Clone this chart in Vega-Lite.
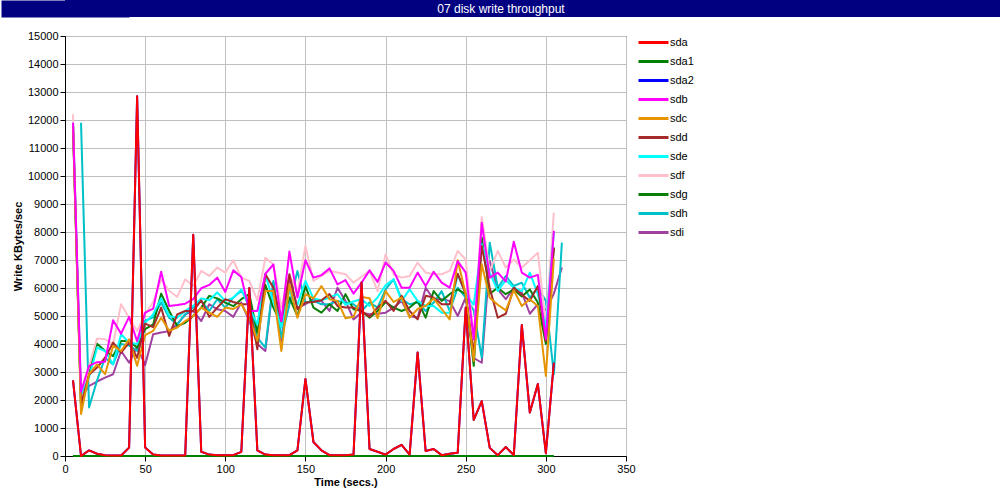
{
"$schema": "https://vega.github.io/schema/vega-lite/v6.json",
"background": "white",
"padding": 0,
"spacing": 12,
"columns": 1,
"resolve": {"legend": {"color": "independent"}},
"config": {"font": "Liberation Sans", "view": {"stroke": "black"}},
"datasets": {
"head": [{"label": "07 disk write throughput"}],
"series": [
{"s":"sdi","t":10,"v":2100},{"s":"sdi","t":15,"v":2500},{"s":"sdi","t":20,"v":2660},{"s":"sdi","t":25,"v":2800},{"s":"sdi","t":30,"v":2920},{"s":"sdi","t":35,"v":3750},{"s":"sdi","t":40,"v":3330},{"s":"sdi","t":45,"v":3900},{"s":"sdi","t":50,"v":3250},{"s":"sdi","t":55,"v":4350},{"s":"sdi","t":60,"v":4410},{"s":"sdi","t":65,"v":4460},{"s":"sdi","t":70,"v":4700},{"s":"sdi","t":75,"v":5060},{"s":"sdi","t":80,"v":5180},{"s":"sdi","t":85,"v":4820},{"s":"sdi","t":90,"v":5420},{"s":"sdi","t":95,"v":5240},{"s":"sdi","t":100,"v":5180},{"s":"sdi","t":105,"v":4970},{"s":"sdi","t":110,"v":5480},{"s":"sdi","t":115,"v":4820},{"s":"sdi","t":120,"v":4000},{"s":"sdi","t":125,"v":3750},{"s":"sdi","t":130,"v":6200},{"s":"sdi","t":135,"v":4110},{"s":"sdi","t":140,"v":6370},{"s":"sdi","t":145,"v":5300},{"s":"sdi","t":150,"v":5420},{"s":"sdi","t":155,"v":5600},{"s":"sdi","t":160,"v":5540},{"s":"sdi","t":165,"v":5180},{"s":"sdi","t":170,"v":6010},{"s":"sdi","t":175,"v":5540},{"s":"sdi","t":180,"v":4880},{"s":"sdi","t":185,"v":5120},{"s":"sdi","t":190,"v":5060},{"s":"sdi","t":195,"v":5080},{"s":"sdi","t":200,"v":5120},{"s":"sdi","t":205,"v":5300},{"s":"sdi","t":210,"v":5540},{"s":"sdi","t":215,"v":5000},{"s":"sdi","t":220,"v":4940},{"s":"sdi","t":225,"v":6010},{"s":"sdi","t":230,"v":5600},{"s":"sdi","t":235,"v":5600},{"s":"sdi","t":240,"v":5540},{"s":"sdi","t":245,"v":5000},{"s":"sdi","t":250,"v":5660},{"s":"sdi","t":255,"v":3500},{"s":"sdi","t":260,"v":3330},{"s":"sdi","t":265,"v":6960},{"s":"sdi","t":270,"v":5950},{"s":"sdi","t":275,"v":5600},{"s":"sdi","t":280,"v":6010},{"s":"sdi","t":285,"v":5840},{"s":"sdi","t":290,"v":5080},{"s":"sdi","t":295,"v":5420},{"s":"sdi","t":300,"v":5200},{"s":"sdi","t":305,"v":5800},{"s":"sdi","t":310,"v":6730},
{"s":"sdh","t":10,"v":11900},{"s":"sdh","t":15,"v":1730},{"s":"sdh","t":20,"v":2700},{"s":"sdh","t":25,"v":3510},{"s":"sdh","t":30,"v":3270},{"s":"sdh","t":35,"v":4000},{"s":"sdh","t":40,"v":3950},{"s":"sdh","t":45,"v":3750},{"s":"sdh","t":50,"v":4830},{"s":"sdh","t":55,"v":4950},{"s":"sdh","t":60,"v":5480},{"s":"sdh","t":65,"v":4940},{"s":"sdh","t":70,"v":4700},{"s":"sdh","t":75,"v":5060},{"s":"sdh","t":80,"v":5300},{"s":"sdh","t":85,"v":5540},{"s":"sdh","t":90,"v":5180},{"s":"sdh","t":95,"v":5600},{"s":"sdh","t":100,"v":5300},{"s":"sdh","t":105,"v":5660},{"s":"sdh","t":110,"v":5890},{"s":"sdh","t":115,"v":5540},{"s":"sdh","t":120,"v":4230},{"s":"sdh","t":125,"v":3870},{"s":"sdh","t":130,"v":6250},{"s":"sdh","t":135,"v":4230},{"s":"sdh","t":140,"v":5400},{"s":"sdh","t":145,"v":6610},{"s":"sdh","t":150,"v":5480},{"s":"sdh","t":155,"v":5540},{"s":"sdh","t":160,"v":5420},{"s":"sdh","t":165,"v":5420},{"s":"sdh","t":170,"v":5540},{"s":"sdh","t":175,"v":5480},{"s":"sdh","t":180,"v":5420},{"s":"sdh","t":185,"v":5180},{"s":"sdh","t":190,"v":5480},{"s":"sdh","t":195,"v":5300},{"s":"sdh","t":200,"v":5950},{"s":"sdh","t":205,"v":6310},{"s":"sdh","t":210,"v":5600},{"s":"sdh","t":215,"v":5420},{"s":"sdh","t":220,"v":5480},{"s":"sdh","t":225,"v":5180},{"s":"sdh","t":230,"v":5480},{"s":"sdh","t":235,"v":5890},{"s":"sdh","t":240,"v":5180},{"s":"sdh","t":245,"v":6010},{"s":"sdh","t":250,"v":5660},{"s":"sdh","t":255,"v":5200},{"s":"sdh","t":260,"v":3510},{"s":"sdh","t":265,"v":7620},{"s":"sdh","t":270,"v":6010},{"s":"sdh","t":275,"v":6430},{"s":"sdh","t":280,"v":6070},{"s":"sdh","t":285,"v":6190},{"s":"sdh","t":290,"v":5650},{"s":"sdh","t":295,"v":6010},{"s":"sdh","t":300,"v":5540},{"s":"sdh","t":305,"v":2920},{"s":"sdh","t":310,"v":7620},
{"s":"sdg","t":5,"v":11800},{"s":"sdg","t":10,"v":1700},{"s":"sdg","t":15,"v":3000},{"s":"sdg","t":20,"v":4010},{"s":"sdg","t":25,"v":3750},{"s":"sdg","t":30,"v":3570},{"s":"sdg","t":35,"v":4110},{"s":"sdg","t":40,"v":4110},{"s":"sdg","t":45,"v":3870},{"s":"sdg","t":50,"v":4530},{"s":"sdg","t":55,"v":4700},{"s":"sdg","t":60,"v":5800},{"s":"sdg","t":65,"v":5180},{"s":"sdg","t":70,"v":4640},{"s":"sdg","t":75,"v":4760},{"s":"sdg","t":80,"v":5000},{"s":"sdg","t":85,"v":5300},{"s":"sdg","t":90,"v":5720},{"s":"sdg","t":95,"v":5630},{"s":"sdg","t":100,"v":5480},{"s":"sdg","t":105,"v":5350},{"s":"sdg","t":110,"v":5600},{"s":"sdg","t":115,"v":5780},{"s":"sdg","t":120,"v":4400},{"s":"sdg","t":125,"v":6110},{"s":"sdg","t":130,"v":5300},{"s":"sdg","t":135,"v":4700},{"s":"sdg","t":140,"v":5660},{"s":"sdg","t":145,"v":5000},{"s":"sdg","t":150,"v":6070},{"s":"sdg","t":155,"v":5300},{"s":"sdg","t":160,"v":5120},{"s":"sdg","t":165,"v":5420},{"s":"sdg","t":170,"v":5180},{"s":"sdg","t":175,"v":5780},{"s":"sdg","t":180,"v":5240},{"s":"sdg","t":185,"v":5180},{"s":"sdg","t":190,"v":4940},{"s":"sdg","t":195,"v":5180},{"s":"sdg","t":200,"v":5500},{"s":"sdg","t":205,"v":5300},{"s":"sdg","t":210,"v":5180},{"s":"sdg","t":215,"v":5300},{"s":"sdg","t":220,"v":5540},{"s":"sdg","t":225,"v":4940},{"s":"sdg","t":230,"v":5890},{"s":"sdg","t":235,"v":5540},{"s":"sdg","t":240,"v":5780},{"s":"sdg","t":245,"v":5950},{"s":"sdg","t":250,"v":5780},{"s":"sdg","t":255,"v":3220},{"s":"sdg","t":260,"v":7800},{"s":"sdg","t":265,"v":5800},{"s":"sdg","t":270,"v":6010},{"s":"sdg","t":275,"v":5780},{"s":"sdg","t":280,"v":5950},{"s":"sdg","t":285,"v":5700},{"s":"sdg","t":290,"v":5950},{"s":"sdg","t":295,"v":5480},{"s":"sdg","t":300,"v":4000},{"s":"sdg","t":305,"v":7440},
{"s":"sdf","t":5,"v":12200},{"s":"sdf","t":10,"v":2000},{"s":"sdf","t":15,"v":3200},{"s":"sdf","t":20,"v":4200},{"s":"sdf","t":25,"v":4170},{"s":"sdf","t":30,"v":4000},{"s":"sdf","t":35,"v":5420},{"s":"sdf","t":40,"v":4940},{"s":"sdf","t":45,"v":4470},{"s":"sdf","t":50,"v":5060},{"s":"sdf","t":55,"v":5500},{"s":"sdf","t":60,"v":6310},{"s":"sdf","t":65,"v":5900},{"s":"sdf","t":70,"v":5680},{"s":"sdf","t":75,"v":6310},{"s":"sdf","t":80,"v":6070},{"s":"sdf","t":85,"v":6610},{"s":"sdf","t":90,"v":6430},{"s":"sdf","t":95,"v":6730},{"s":"sdf","t":100,"v":6550},{"s":"sdf","t":105,"v":6990},{"s":"sdf","t":110,"v":6370},{"s":"sdf","t":115,"v":6250},{"s":"sdf","t":120,"v":5560},{"s":"sdf","t":125,"v":7080},{"s":"sdf","t":130,"v":6850},{"s":"sdf","t":135,"v":5300},{"s":"sdf","t":140,"v":6490},{"s":"sdf","t":145,"v":5800},{"s":"sdf","t":150,"v":7500},{"s":"sdf","t":155,"v":6250},{"s":"sdf","t":160,"v":6430},{"s":"sdf","t":165,"v":6610},{"s":"sdf","t":170,"v":6550},{"s":"sdf","t":175,"v":6490},{"s":"sdf","t":180,"v":6190},{"s":"sdf","t":185,"v":6400},{"s":"sdf","t":190,"v":6610},{"s":"sdf","t":195,"v":5890},{"s":"sdf","t":200,"v":7200},{"s":"sdf","t":205,"v":6490},{"s":"sdf","t":210,"v":6370},{"s":"sdf","t":215,"v":6430},{"s":"sdf","t":220,"v":6910},{"s":"sdf","t":225,"v":6550},{"s":"sdf","t":230,"v":6490},{"s":"sdf","t":235,"v":6490},{"s":"sdf","t":240,"v":6610},{"s":"sdf","t":245,"v":7320},{"s":"sdf","t":250,"v":7020},{"s":"sdf","t":255,"v":4200},{"s":"sdf","t":260,"v":8540},{"s":"sdf","t":265,"v":6610},{"s":"sdf","t":270,"v":7320},{"s":"sdf","t":275,"v":6730},{"s":"sdf","t":280,"v":7020},{"s":"sdf","t":285,"v":6730},{"s":"sdf","t":290,"v":6990},{"s":"sdf","t":295,"v":7260},{"s":"sdf","t":300,"v":4700},{"s":"sdf","t":305,"v":8690},
{"s":"sde","t":5,"v":11900},{"s":"sde","t":10,"v":2200},{"s":"sde","t":15,"v":2800},{"s":"sde","t":20,"v":3870},{"s":"sde","t":25,"v":3750},{"s":"sde","t":30,"v":3280},{"s":"sde","t":35,"v":4350},{"s":"sde","t":40,"v":4050},{"s":"sde","t":45,"v":4000},{"s":"sde","t":50,"v":4760},{"s":"sde","t":55,"v":5060},{"s":"sde","t":60,"v":5630},{"s":"sde","t":65,"v":5000},{"s":"sde","t":70,"v":4940},{"s":"sde","t":75,"v":5180},{"s":"sde","t":80,"v":5360},{"s":"sde","t":85,"v":5630},{"s":"sde","t":90,"v":5560},{"s":"sde","t":95,"v":5840},{"s":"sde","t":100,"v":5540},{"s":"sde","t":105,"v":5650},{"s":"sde","t":110,"v":5950},{"s":"sde","t":115,"v":5300},{"s":"sde","t":120,"v":4700},{"s":"sde","t":125,"v":6490},{"s":"sde","t":130,"v":5500},{"s":"sde","t":135,"v":4590},{"s":"sde","t":140,"v":5890},{"s":"sde","t":145,"v":5400},{"s":"sde","t":150,"v":6250},{"s":"sde","t":155,"v":5630},{"s":"sde","t":160,"v":5560},{"s":"sde","t":165,"v":5660},{"s":"sde","t":170,"v":5780},{"s":"sde","t":175,"v":5400},{"s":"sde","t":180,"v":5520},{"s":"sde","t":185,"v":5600},{"s":"sde","t":190,"v":5360},{"s":"sde","t":195,"v":5660},{"s":"sde","t":200,"v":6100},{"s":"sde","t":205,"v":6310},{"s":"sde","t":210,"v":5540},{"s":"sde","t":215,"v":5950},{"s":"sde","t":220,"v":5540},{"s":"sde","t":225,"v":5360},{"s":"sde","t":230,"v":5360},{"s":"sde","t":235,"v":5120},{"s":"sde","t":240,"v":5120},{"s":"sde","t":245,"v":6490},{"s":"sde","t":250,"v":5780},{"s":"sde","t":255,"v":5400},{"s":"sde","t":260,"v":7560},{"s":"sde","t":265,"v":6550},{"s":"sde","t":270,"v":5890},{"s":"sde","t":275,"v":6280},{"s":"sde","t":280,"v":6010},{"s":"sde","t":285,"v":5890},{"s":"sde","t":290,"v":6550},{"s":"sde","t":295,"v":5780},{"s":"sde","t":300,"v":4600},{"s":"sde","t":305,"v":7980},
{"s":"sdd","t":5,"v":11800},{"s":"sdd","t":10,"v":1850},{"s":"sdd","t":15,"v":2900},{"s":"sdd","t":20,"v":3160},{"s":"sdd","t":25,"v":3510},{"s":"sdd","t":30,"v":4050},{"s":"sdd","t":35,"v":3690},{"s":"sdd","t":40,"v":4050},{"s":"sdd","t":45,"v":3510},{"s":"sdd","t":50,"v":4730},{"s":"sdd","t":55,"v":4600},{"s":"sdd","t":60,"v":5300},{"s":"sdd","t":65,"v":4290},{"s":"sdd","t":70,"v":5060},{"s":"sdd","t":75,"v":5180},{"s":"sdd","t":80,"v":5180},{"s":"sdd","t":85,"v":5560},{"s":"sdd","t":90,"v":4970},{"s":"sdd","t":95,"v":5300},{"s":"sdd","t":100,"v":5600},{"s":"sdd","t":105,"v":5500},{"s":"sdd","t":110,"v":5420},{"s":"sdd","t":115,"v":5420},{"s":"sdd","t":120,"v":3810},{"s":"sdd","t":125,"v":6490},{"s":"sdd","t":130,"v":6010},{"s":"sdd","t":135,"v":4820},{"s":"sdd","t":140,"v":6490},{"s":"sdd","t":145,"v":5240},{"s":"sdd","t":150,"v":5480},{"s":"sdd","t":155,"v":5500},{"s":"sdd","t":160,"v":5560},{"s":"sdd","t":165,"v":5780},{"s":"sdd","t":170,"v":5360},{"s":"sdd","t":175,"v":5300},{"s":"sdd","t":180,"v":5300},{"s":"sdd","t":185,"v":5180},{"s":"sdd","t":190,"v":4970},{"s":"sdd","t":195,"v":5300},{"s":"sdd","t":200,"v":5540},{"s":"sdd","t":205,"v":5180},{"s":"sdd","t":210,"v":5720},{"s":"sdd","t":215,"v":5180},{"s":"sdd","t":220,"v":4880},{"s":"sdd","t":225,"v":5720},{"s":"sdd","t":230,"v":5660},{"s":"sdd","t":235,"v":5420},{"s":"sdd","t":240,"v":5420},{"s":"sdd","t":245,"v":6510},{"s":"sdd","t":250,"v":5780},{"s":"sdd","t":255,"v":3630},{"s":"sdd","t":260,"v":7500},{"s":"sdd","t":265,"v":6000},{"s":"sdd","t":270,"v":4940},{"s":"sdd","t":275,"v":5080},{"s":"sdd","t":280,"v":6010},{"s":"sdd","t":285,"v":5760},{"s":"sdd","t":290,"v":5540},{"s":"sdd","t":295,"v":6070},{"s":"sdd","t":300,"v":4110},{"s":"sdd","t":305,"v":7440},
{"s":"sdc","t":5,"v":11800},{"s":"sdc","t":10,"v":1500},{"s":"sdc","t":15,"v":2920},{"s":"sdc","t":20,"v":3270},{"s":"sdc","t":25,"v":2920},{"s":"sdc","t":30,"v":3930},{"s":"sdc","t":35,"v":3750},{"s":"sdc","t":40,"v":4170},{"s":"sdc","t":45,"v":3220},{"s":"sdc","t":50,"v":4320},{"s":"sdc","t":55,"v":4470},{"s":"sdc","t":60,"v":4940},{"s":"sdc","t":65,"v":4470},{"s":"sdc","t":70,"v":4590},{"s":"sdc","t":75,"v":4820},{"s":"sdc","t":80,"v":5000},{"s":"sdc","t":85,"v":5300},{"s":"sdc","t":90,"v":5120},{"s":"sdc","t":95,"v":4970},{"s":"sdc","t":100,"v":5300},{"s":"sdc","t":105,"v":5250},{"s":"sdc","t":110,"v":5420},{"s":"sdc","t":115,"v":4940},{"s":"sdc","t":120,"v":4110},{"s":"sdc","t":125,"v":5890},{"s":"sdc","t":130,"v":5890},{"s":"sdc","t":135,"v":3750},{"s":"sdc","t":140,"v":6130},{"s":"sdc","t":145,"v":4940},{"s":"sdc","t":150,"v":5780},{"s":"sdc","t":155,"v":5630},{"s":"sdc","t":160,"v":6070},{"s":"sdc","t":165,"v":5600},{"s":"sdc","t":170,"v":5540},{"s":"sdc","t":175,"v":4920},{"s":"sdc","t":180,"v":4970},{"s":"sdc","t":185,"v":5680},{"s":"sdc","t":190,"v":5630},{"s":"sdc","t":195,"v":4920},{"s":"sdc","t":200,"v":5890},{"s":"sdc","t":205,"v":5500},{"s":"sdc","t":210,"v":5660},{"s":"sdc","t":215,"v":4940},{"s":"sdc","t":220,"v":5250},{"s":"sdc","t":225,"v":5360},{"s":"sdc","t":230,"v":5630},{"s":"sdc","t":235,"v":5250},{"s":"sdc","t":240,"v":4880},{"s":"sdc","t":245,"v":6990},{"s":"sdc","t":250,"v":5780},{"s":"sdc","t":255,"v":3400},{"s":"sdc","t":260,"v":6850},{"s":"sdc","t":265,"v":5650},{"s":"sdc","t":270,"v":5400},{"s":"sdc","t":275,"v":5200},{"s":"sdc","t":280,"v":5920},{"s":"sdc","t":285,"v":5360},{"s":"sdc","t":290,"v":5600},{"s":"sdc","t":295,"v":5360},{"s":"sdc","t":300,"v":2860},{"s":"sdc","t":305,"v":7060},
{"s":"sdb","t":5,"v":11900},{"s":"sdb","t":10,"v":2300},{"s":"sdb","t":15,"v":3220},{"s":"sdb","t":20,"v":3350},{"s":"sdb","t":25,"v":3370},{"s":"sdb","t":30,"v":4850},{"s":"sdb","t":35,"v":4370},{"s":"sdb","t":40,"v":4970},{"s":"sdb","t":45,"v":4100},{"s":"sdb","t":50,"v":5120},{"s":"sdb","t":55,"v":5260},{"s":"sdb","t":60,"v":6580},{"s":"sdb","t":65,"v":5360},{"s":"sdb","t":70,"v":5390},{"s":"sdb","t":75,"v":5440},{"s":"sdb","t":80,"v":5600},{"s":"sdb","t":85,"v":5990},{"s":"sdb","t":90,"v":6110},{"s":"sdb","t":95,"v":6370},{"s":"sdb","t":100,"v":5860},{"s":"sdb","t":105,"v":6630},{"s":"sdb","t":110,"v":6390},{"s":"sdb","t":115,"v":5180},{"s":"sdb","t":120,"v":5180},{"s":"sdb","t":125,"v":6510},{"s":"sdb","t":130,"v":6840},{"s":"sdb","t":135,"v":4820},{"s":"sdb","t":140,"v":7300},{"s":"sdb","t":145,"v":5660},{"s":"sdb","t":150,"v":6990},{"s":"sdb","t":155,"v":6370},{"s":"sdb","t":160,"v":6460},{"s":"sdb","t":165,"v":6700},{"s":"sdb","t":170,"v":6130},{"s":"sdb","t":175,"v":6280},{"s":"sdb","t":180,"v":5800},{"s":"sdb","t":185,"v":6190},{"s":"sdb","t":190,"v":6630},{"s":"sdb","t":195,"v":6220},{"s":"sdb","t":200,"v":6910},{"s":"sdb","t":205,"v":6610},{"s":"sdb","t":210,"v":6010},{"s":"sdb","t":215,"v":6010},{"s":"sdb","t":220,"v":6550},{"s":"sdb","t":225,"v":6070},{"s":"sdb","t":230,"v":6580},{"s":"sdb","t":235,"v":6190},{"s":"sdb","t":240,"v":6010},{"s":"sdb","t":245,"v":6960},{"s":"sdb","t":250,"v":6550},{"s":"sdb","t":255,"v":4170},{"s":"sdb","t":260,"v":8330},{"s":"sdb","t":265,"v":6370},{"s":"sdb","t":270,"v":6550},{"s":"sdb","t":275,"v":6230},{"s":"sdb","t":280,"v":7650},{"s":"sdb","t":285,"v":6550},{"s":"sdb","t":290,"v":6370},{"s":"sdb","t":295,"v":6470},{"s":"sdb","t":300,"v":4170},{"s":"sdb","t":305,"v":8040},
{"s":"sda2","t":5,"v":2700},{"s":"sda2","t":10,"v":0},{"s":"sda2","t":15,"v":200},{"s":"sda2","t":20,"v":80},{"s":"sda2","t":25,"v":30},{"s":"sda2","t":30,"v":20},{"s":"sda2","t":35,"v":20},{"s":"sda2","t":40,"v":300},{"s":"sda2","t":45,"v":12850},{"s":"sda2","t":50,"v":300},{"s":"sda2","t":55,"v":50},{"s":"sda2","t":60,"v":20},{"s":"sda2","t":65,"v":20},{"s":"sda2","t":70,"v":20},{"s":"sda2","t":75,"v":20},{"s":"sda2","t":80,"v":7900},{"s":"sda2","t":85,"v":150},{"s":"sda2","t":90,"v":50},{"s":"sda2","t":95,"v":30},{"s":"sda2","t":100,"v":30},{"s":"sda2","t":105,"v":30},{"s":"sda2","t":110,"v":150},{"s":"sda2","t":115,"v":6000},{"s":"sda2","t":120,"v":200},{"s":"sda2","t":125,"v":50},{"s":"sda2","t":130,"v":30},{"s":"sda2","t":135,"v":30},{"s":"sda2","t":140,"v":30},{"s":"sda2","t":145,"v":200},{"s":"sda2","t":150,"v":2750},{"s":"sda2","t":155,"v":500},{"s":"sda2","t":160,"v":200},{"s":"sda2","t":165,"v":30},{"s":"sda2","t":170,"v":30},{"s":"sda2","t":175,"v":30},{"s":"sda2","t":180,"v":50},{"s":"sda2","t":185,"v":6200},{"s":"sda2","t":190,"v":250},{"s":"sda2","t":195,"v":150},{"s":"sda2","t":200,"v":50},{"s":"sda2","t":205,"v":250},{"s":"sda2","t":210,"v":400},{"s":"sda2","t":215,"v":50},{"s":"sda2","t":220,"v":3700},{"s":"sda2","t":225,"v":180},{"s":"sda2","t":230,"v":250},{"s":"sda2","t":235,"v":30},{"s":"sda2","t":240,"v":80},{"s":"sda2","t":245,"v":120},{"s":"sda2","t":250,"v":5300},{"s":"sda2","t":255,"v":1290},{"s":"sda2","t":260,"v":1960},{"s":"sda2","t":265,"v":290},{"s":"sda2","t":270,"v":30},{"s":"sda2","t":275,"v":320},{"s":"sda2","t":280,"v":30},{"s":"sda2","t":285,"v":4680},{"s":"sda2","t":290,"v":1550},{"s":"sda2","t":295,"v":2570},{"s":"sda2","t":300,"v":100},{"s":"sda2","t":305,"v":3330},
{"s":"sda1","t":5,"v":0},{"s":"sda1","t":10,"v":0},{"s":"sda1","t":15,"v":0},{"s":"sda1","t":20,"v":0},{"s":"sda1","t":25,"v":0},{"s":"sda1","t":30,"v":0},{"s":"sda1","t":35,"v":0},{"s":"sda1","t":40,"v":0},{"s":"sda1","t":45,"v":0},{"s":"sda1","t":50,"v":0},{"s":"sda1","t":55,"v":0},{"s":"sda1","t":60,"v":0},{"s":"sda1","t":65,"v":0},{"s":"sda1","t":70,"v":0},{"s":"sda1","t":75,"v":0},{"s":"sda1","t":80,"v":0},{"s":"sda1","t":85,"v":0},{"s":"sda1","t":90,"v":0},{"s":"sda1","t":95,"v":0},{"s":"sda1","t":100,"v":0},{"s":"sda1","t":105,"v":0},{"s":"sda1","t":110,"v":0},{"s":"sda1","t":115,"v":0},{"s":"sda1","t":120,"v":0},{"s":"sda1","t":125,"v":0},{"s":"sda1","t":130,"v":0},{"s":"sda1","t":135,"v":0},{"s":"sda1","t":140,"v":0},{"s":"sda1","t":145,"v":0},{"s":"sda1","t":150,"v":0},{"s":"sda1","t":155,"v":0},{"s":"sda1","t":160,"v":0},{"s":"sda1","t":165,"v":0},{"s":"sda1","t":170,"v":0},{"s":"sda1","t":175,"v":0},{"s":"sda1","t":180,"v":0},{"s":"sda1","t":185,"v":0},{"s":"sda1","t":190,"v":0},{"s":"sda1","t":195,"v":0},{"s":"sda1","t":200,"v":0},{"s":"sda1","t":205,"v":0},{"s":"sda1","t":210,"v":0},{"s":"sda1","t":215,"v":0},{"s":"sda1","t":220,"v":0},{"s":"sda1","t":225,"v":0},{"s":"sda1","t":230,"v":0},{"s":"sda1","t":235,"v":0},{"s":"sda1","t":240,"v":0},{"s":"sda1","t":245,"v":0},{"s":"sda1","t":250,"v":0},{"s":"sda1","t":255,"v":0},{"s":"sda1","t":260,"v":0},{"s":"sda1","t":265,"v":0},{"s":"sda1","t":270,"v":0},{"s":"sda1","t":275,"v":0},{"s":"sda1","t":280,"v":0},{"s":"sda1","t":285,"v":0},{"s":"sda1","t":290,"v":0},{"s":"sda1","t":295,"v":0},{"s":"sda1","t":300,"v":0},{"s":"sda1","t":305,"v":0},
{"s":"sda","t":5,"v":2700},{"s":"sda","t":10,"v":0},{"s":"sda","t":15,"v":200},{"s":"sda","t":20,"v":80},{"s":"sda","t":25,"v":30},{"s":"sda","t":30,"v":20},{"s":"sda","t":35,"v":20},{"s":"sda","t":40,"v":300},{"s":"sda","t":45,"v":12850},{"s":"sda","t":50,"v":300},{"s":"sda","t":55,"v":50},{"s":"sda","t":60,"v":20},{"s":"sda","t":65,"v":20},{"s":"sda","t":70,"v":20},{"s":"sda","t":75,"v":20},{"s":"sda","t":80,"v":7900},{"s":"sda","t":85,"v":150},{"s":"sda","t":90,"v":50},{"s":"sda","t":95,"v":30},{"s":"sda","t":100,"v":30},{"s":"sda","t":105,"v":30},{"s":"sda","t":110,"v":150},{"s":"sda","t":115,"v":6000},{"s":"sda","t":120,"v":200},{"s":"sda","t":125,"v":50},{"s":"sda","t":130,"v":30},{"s":"sda","t":135,"v":30},{"s":"sda","t":140,"v":30},{"s":"sda","t":145,"v":200},{"s":"sda","t":150,"v":2750},{"s":"sda","t":155,"v":500},{"s":"sda","t":160,"v":200},{"s":"sda","t":165,"v":30},{"s":"sda","t":170,"v":30},{"s":"sda","t":175,"v":30},{"s":"sda","t":180,"v":50},{"s":"sda","t":185,"v":6200},{"s":"sda","t":190,"v":250},{"s":"sda","t":195,"v":150},{"s":"sda","t":200,"v":50},{"s":"sda","t":205,"v":250},{"s":"sda","t":210,"v":400},{"s":"sda","t":215,"v":50},{"s":"sda","t":220,"v":3700},{"s":"sda","t":225,"v":180},{"s":"sda","t":230,"v":250},{"s":"sda","t":235,"v":30},{"s":"sda","t":240,"v":80},{"s":"sda","t":245,"v":120},{"s":"sda","t":250,"v":5300},{"s":"sda","t":255,"v":1290},{"s":"sda","t":260,"v":1960},{"s":"sda","t":265,"v":290},{"s":"sda","t":270,"v":30},{"s":"sda","t":275,"v":320},{"s":"sda","t":280,"v":30},{"s":"sda","t":285,"v":4680},{"s":"sda","t":290,"v":1550},{"s":"sda","t":295,"v":2570},{"s":"sda","t":300,"v":100},{"s":"sda","t":305,"v":3330}
]
},
"concat": [
{
"width": 936,
"height": 17,
"data": {"name": "head"},
"view": {"fill": "#000080", "stroke": null},
"mark": {"type": "text", "color": "white", "fontSize": 12, "font": "Liberation Sans", "dx": -32},
"encoding": {
"x": {"field": "label", "type": "nominal", "axis": null},
"y": {"field": "label", "type": "nominal", "axis": {"title": null, "labels": false, "ticks": false, "grid": false, "domain": true, "domainWidth": 128, "domainColor": "#000080", "minExtent": 64, "maxExtent": 64}},
"text": {"field": "label"}
}
},
{
"width": 561,
"height": 420,
"data": {"name": "series"},
"mark": {"type": "line", "strokeWidth": 2, "strokeJoin": "round"},
"encoding": {
"x": {"field": "t", "type": "quantitative", "scale": {"domain": [0, 350], "nice": false},
"axis": {"values": [0,50,100,150,200,250,300,350], "title": "Time (secs.)", "titleFontWeight": "bold", "titleFontSize": 11, "titleColor": "black", "titlePadding": 2, "labelFontSize": 11, "labelColor": "black", "labelPadding": 2, "tickSize": 5, "tickColor": "black", "domainColor": "black", "gridColor": "#c0c0c0", "gridOpacity": 1, "labelFlush": false}},
"y": {"field": "v", "type": "quantitative", "scale": {"domain": [0, 15000], "nice": false},
"axis": {"values": [0,1000,2000,3000,4000,5000,6000,7000,8000,9000,10000,11000,12000,13000,14000,15000], "format": "d", "title": "Write KBytes/sec", "titleFontWeight": "bold", "titleFontSize": 11, "titleColor": "black", "titleX": -47, "titleY": 210, "titleAngle": 270, "titleAlign": "center", "titleBaseline": "middle", "labelFontSize": 11, "labelColor": "black", "labelPadding": 2, "tickSize": 5, "tickColor": "black", "domainColor": "black", "gridColor": "#c0c0c0", "gridOpacity": 1, "minExtent": 64, "maxExtent": 64, "labelFlush": false}},
"color": {"field": "s", "type": "nominal",
"scale": {"domain": ["sda","sda1","sda2","sdb","sdc","sdd","sde","sdf","sdg","sdh","sdi"], "range": ["#ff0000","#008000","#0000ff","#ff00ff","#e69500","#a52a2a","#00ffff","#ffc0cb","#0a800a","#00c0c8","#a040a0"]},
"legend": {"title": null, "orient": "right", "offset": 11, "padding": 0, "symbolType": "M-1,0H5", "symbolSize": 100, "symbolStrokeWidth": 3, "labelOffset": 20, "rowPadding": 6, "labelFontSize": 11, "labelColor": "black", "labelFont": "Liberation Sans"}}
}
}
]
}
